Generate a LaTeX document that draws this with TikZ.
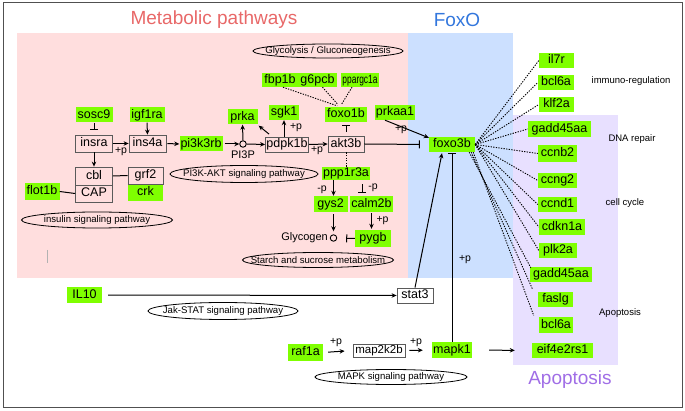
\documentclass[tikz,border=0pt]{standalone}
\usepackage{fontspec}
\setmainfont{Liberation Sans}
\usetikzlibrary{shapes.geometric,arrows.meta,calc}
\definecolor{pinkbg}{RGB}{255,222,222}
\definecolor{bluebg}{RGB}{204,224,255}
\definecolor{purplebg}{RGB}{232,224,255}
\definecolor{limeg}{RGB}{127,255,0}
\definecolor{metred}{RGB}{232,104,104}
\definecolor{foxoblue}{RGB}{51,119,221}
\definecolor{apopurple}{RGB}{160,110,230}
\definecolor{boxgray}{RGB}{90,90,90}
\definecolor{framegray}{RGB}{80,80,80}
\newcommand{\gfont}{\fontsize{12.5}{14}\selectfont}
\newcommand{\pwfont}{\fontsize{9.6}{11}\selectfont}
\newcommand{\lblfont}{\fontsize{10.5}{12}\selectfont}
\newcommand{\smfont}{\fontsize{11}{13}\selectfont}
\newcommand{\sidefont}{\fontsize{9.5}{11}\selectfont}
\newcommand{\titlefont}{\fontsize{19}{22}\selectfont}
\begin{document}
\begin{tikzpicture}[x=1pt,y=-1pt,
  gn/.style={fill=limeg, inner xsep=1pt, inner ysep=0pt, minimum height=15pt, minimum width=#1, font=\gfont, text height=9pt, text depth=2.5pt},
  gn/.default=35pt,
  bx/.style={draw=boxgray, line width=0.8pt, inner xsep=1pt, inner ysep=0pt, minimum height=16pt, minimum width=#1, font=\gfont, text height=9pt, text depth=2.5pt},
  bx/.default=36pt,
  pw/.style={draw, ellipse, line width=0.8pt, minimum width=#1, minimum height=15pt, inner sep=0pt},
  pwt/.style={font=\pwfont, inner sep=0pt},
  act/.style={-{Stealth[length=5pt,width=4.5pt]}, line width=1pt},
  inh/.style={-{Bar[width=8pt,line width=1pt]}, line width=1pt},
  plain/.style={line width=1pt},
  dotl/.style={line width=0.9pt, dash pattern=on 1.3pt off 1.3pt},
  lbl/.style={font=\lblfont, inner sep=0pt},
  side/.style={font=\sidefont, inner sep=0pt},
  dotc/.style={circle, draw, line width=0.9pt, minimum size=6.5pt, inner sep=0pt}
]
\useasboundingbox (0,0) rectangle (685,411);
% backgrounds
\fill[pinkbg] (17,33) rectangle (408,278);
\fill[bluebg] (408,33) rectangle (513,278);
\fill[purplebg] (513,115) rectangle (618,365);
\draw[framegray, line width=1pt] (3,3) rectangle (682,407);
\draw[gray!60, line width=0.5pt] (47,250) -- (47,263);

% titles
\node[font=\titlefont, text=metred] (tmet) at (214,20) {Metabolic pathways};
\node[font=\titlefont, text=foxoblue] (tfox) at (457,20) {FoxO};
\node[font=\titlefont, text=apopurple] (tapo) at (570,380) {Apoptosis};

% side labels
\node[side] (simm) at (631,81) {immuno-regulation};
\node[side] (sdna) at (632,139) {DNA repair};
\node[side] (scc) at (625,203) {cell cycle};
\node[side] (sapo) at (620,313) {Apoptosis};

% pathway ellipses
\node[pw=150pt, minimum height=14pt] (eglyc) at (328,51) {};
\node[pwt] at (eglyc) {Glycolysis / Gluconeogenesis};
\node[pw=148pt, minimum height=17pt] (epi3k) at (244,174) {};
\node[pwt] at (epi3k) {PI3K-AKT signaling pathway};
\node[pw=151pt, minimum height=16pt] (eins) at (97,220) {};
\node[pwt] at (eins) {insulin signaling pathway};
\node[pw=151pt, minimum height=15pt] (estar) at (318,260) {};
\node[pwt] at (estar) {Starch and sucrose metabolism};
\node[pw=150pt, minimum height=17pt] (ejak) at (223,311) {};
\node[pwt] at (ejak) {Jak-STAT signaling pathway};
\node[pw=152pt, minimum height=15pt] (emapk) at (391,377) {};
\node[pwt] at (emapk) {MAPK signaling pathway};

% insulin area
\node[gn=37pt] (sosc9) at (94,115) {sosc9};
\node[gn=35pt] (igf1ra) at (147,115) {igf1ra};
\node[bx=37pt, minimum height=17pt] (insra) at (94,143.5) {insra};
\node[bx=37pt, minimum height=17pt] (ins4a) at (147.5,143.5) {ins4a};
\node[gn=42pt] (pi3k3rb) at (201,144) {pi3k3rb};
\node[bx=37pt, minimum height=18pt] (cbl) at (94,176) {cbl};
\node[bx=37pt, minimum height=17pt] (cap) at (94,193.5) {CAP};
\node[gn=35pt, minimum height=17pt] (crk) at (145.5,192.5) {crk};
\node[bx=35pt, minimum height=17pt] (grf2) at (145.5,175.5) {grf2};
\node[gn=35pt, minimum height=17pt] (flot1b) at (42,191.5) {flot1b};

% PI3K-AKT area
\node[dotc] (pi3p) at (243,144) {};
\node[lbl, font=\smfont] (pi3plbl) at (243,155) {PI3P};
\node[gn=30pt] (prka) at (242.5,117) {prka};
\node[gn=30pt] (sgk1) at (284,112.5) {sgk1};
\node[bx=42pt, minimum height=15pt] (pdpk1b) at (287,144.5) {pdpk1b};
\node[bx=36pt, minimum height=16pt] (akt3b) at (346,144) {akt3b};
\node[gn=42pt] (foxo1b) at (346,114.5) {foxo1b};
\node[gn=36pt, minimum height=14pt] (fbp1b) at (280,80) {fbp1b};
\node[gn=39pt, minimum height=14pt] (g6pcb) at (317.5,80) {g6pcb};
\node[gn=35pt, minimum height=14pt, font=\fontsize{12}{14}\selectfont] (ppargc1a) at (360,80) {\scalebox{0.7}[1]{ppargc1a}};
\node[gn=36pt] (prkaa1) at (395,112.5) {prkaa1};

% starch area
\node[gn=44pt, minimum height=13pt] (ppp1r3a) at (346,173.5) {ppp1r3a};
\node[gn=34pt, minimum height=16pt] (gys2) at (330.5,204) {gys2};
\node[gn=43pt, minimum height=16pt] (calm2b) at (371.5,204) {calm2b};
\node[dotc] (glyc) at (333.5,238) {};
\node[lbl, font=\smfont, anchor=east] (glyclbl) at (328,238) {Glycogen};
\node[gn=36pt, minimum height=17pt] (pygb) at (373,238.5) {pygb};

% FoxO
\node[gn=46pt] (foxo3b) at (452,144.5) {foxo3b};
\node[bx=36pt, fill=white, minimum height=15pt] (stat3) at (415,295.5) {stat3};
\node[gn=35pt, minimum height=16pt] (il10) at (84.5,295) {IL10};
\node[gn=35pt, minimum height=16pt] (raf1a) at (305.5,352.5) {raf1a};
\node[bx=52pt, fill=white, minimum height=13pt, font=\fontsize{11.5}{13}\selectfont] (map2k2b) at (379,350.5) {map2k2b};
\node[gn=40pt, minimum height=16pt] (mapk1) at (452,350) {mapk1};
\node[gn=61pt] (eif) at (562.5,350.5) {eif4e2rs1};

% targets
\node[gn=35pt] (il7r) at (556.5,60.5) {il7r};
\node[gn=36pt] (bcl6a) at (556,82.5) {bcl6a};
\node[gn=35pt] (klf2a) at (556.5,104.5) {klf2a};
\node[gn=63pt, minimum height=16pt] (gadd1) at (559.5,129) {gadd45aa};
\node[gn=39pt, minimum height=17pt] (ccnb2) at (557.5,153.5) {ccnb2};
\node[gn=39pt] (ccng2) at (557.5,180.5) {ccng2};
\node[gn=39pt] (ccnd1) at (557.5,204.5) {ccnd1};
\node[gn=46pt, minimum height=16pt] (cdkn1a) at (562,227) {cdkn1a};
\node[gn=38pt] (plk2a) at (558,250.5) {plk2a};
\node[gn=62pt] (gadd2) at (561,274.5) {gadd45aa};
\node[gn=35pt] (faslg) at (555.5,299.5) {faslg};
\node[gn=34pt, minimum height=16pt] (bcl6b) at (556,325) {bcl6a};

% ---- connectors: insulin
\draw[inh, shorten >=5pt] (sosc9.south) -- (insra.north);
\draw[act] (igf1ra.south) -- (ins4a.north);
\draw[act] (insra.east) -- (ins4a.west);
\node[lbl] (lp1) at (121,151.5) {+p};
\draw[act] (insra.south) -- (cbl.north);
\draw[plain] (cbl.east) -- (grf2.west);
\draw[plain] (flot1b.east) -- (cap.west);
\draw[act, shorten <=1pt] (ins4a.east) -- (pi3k3rb.west);

% PI3K-AKT
\draw[act, shorten <=2pt] (pi3k3rb.east) -- (pi3p.west);
\draw[act] (pi3p.north) -- (prka.south);
\draw[act] (pi3p.east) -- (pdpk1b.west);
\draw[act, shorten <=4pt] ([xshift=7pt]pdpk1b.north west) -- ([xshift=1pt,yshift=-1pt]prka.south east);
\draw[act] (sgk1.south |- pdpk1b.north) -- (sgk1.south);
\node[lbl] (lp2) at (296,128) {+p};
\draw[act] (pdpk1b.east) -- (akt3b.west);
\node[lbl] (lp3) at (317,150.5) {+p};
\draw[inh, shorten <=4pt, shorten >=3pt] (akt3b.north) -- (foxo1b.south);
\draw[dotl, shorten >=3pt] ([xshift=3pt]fbp1b.south) -- ([xshift=-6pt]foxo1b.north);
\draw[dotl, shorten >=3pt] ([xshift=5pt]g6pcb.south) -- ([xshift=-6pt]foxo1b.north);
\draw[dotl, shorten >=3pt] ([xshift=-8pt]ppargc1a.south) -- ([xshift=-6pt]foxo1b.north);
\draw[dotl] (akt3b.south) -- (ppp1r3a.north);
\draw[inh, shorten >=9pt] (akt3b.east) -- (foxo3b.west);
\draw[act] ([xshift=-10pt]prkaa1.south) -- ([yshift=-1pt]foxo3b.north west);
\node[lbl] (lp4) at (401,130) {+p};

% starch
\draw[act] (ppp1r3a.south -| glyc) -- (gys2.north -| glyc);
\node[lbl] (lp5) at (322,189.5) {-p};
\draw[inh, shorten <=4pt, shorten >=3pt] ([xshift=-9.5pt]calm2b.north |- ppp1r3a.south) -- ([xshift=-9.5pt]calm2b.north);
\node[lbl] (lp6) at (373,187.5) {-p};
\draw[act, shorten <=2pt, shorten >=3pt] (gys2.south -| glyc) -- (glyc.north);
\draw[act, shorten <=1pt, shorten >=1pt] (calm2b.south) -- (calm2b.south |- pygb.north);
\node[lbl] (lp7) at (382.5,220.5) {+p};
\draw[inh, shorten >=9pt] (pygb.west) -- (glyc.east);

% FoxO connections
\draw[act] (stat3.north) -- ([xshift=-10pt,yshift=-1pt]foxo3b.south);
\draw[inh, shorten >=1pt] (mapk1.north) -- (mapk1.north |- foxo3b.south);
\node[lbl] (lp8) at (465,260) {+p};
\draw[act, shorten <=6pt] (il10.east) -- (stat3.west);
\draw[act, shorten <=5pt, shorten >=8pt] (raf1a.east) -- (map2k2b.west);
\node[lbl] (lp9) at (336,343) {+p};
\draw[act, shorten <=4pt, shorten >=9pt] (map2k2b.east) -- (mapk1.west);
\node[lbl] (lp10) at (416,343) {+p};
\draw[act, shorten <=17pt, shorten >=17pt] (mapk1.east) -- (eif.west);

% dotted targets
\foreach \t in {il7r,bcl6a,klf2a,gadd1,ccnb2,ccng2,ccnd1,cdkn1a,plk2a}{
  \draw[dotl] (foxo3b.east) -- (\t.west);
}
\draw[dotl] ([xshift=-6pt]foxo3b.south east) -- ([xshift=1pt,yshift=-1pt]gadd2.north west);
\draw[dotl] ([xshift=-4pt]foxo3b.south east) -- ([xshift=-5pt,yshift=2pt]faslg.north west);
\draw[dotl] ([xshift=-2pt]foxo3b.south east) -- ([xshift=-5pt,yshift=1pt]bcl6b.north west);
\end{tikzpicture}
\end{document}
